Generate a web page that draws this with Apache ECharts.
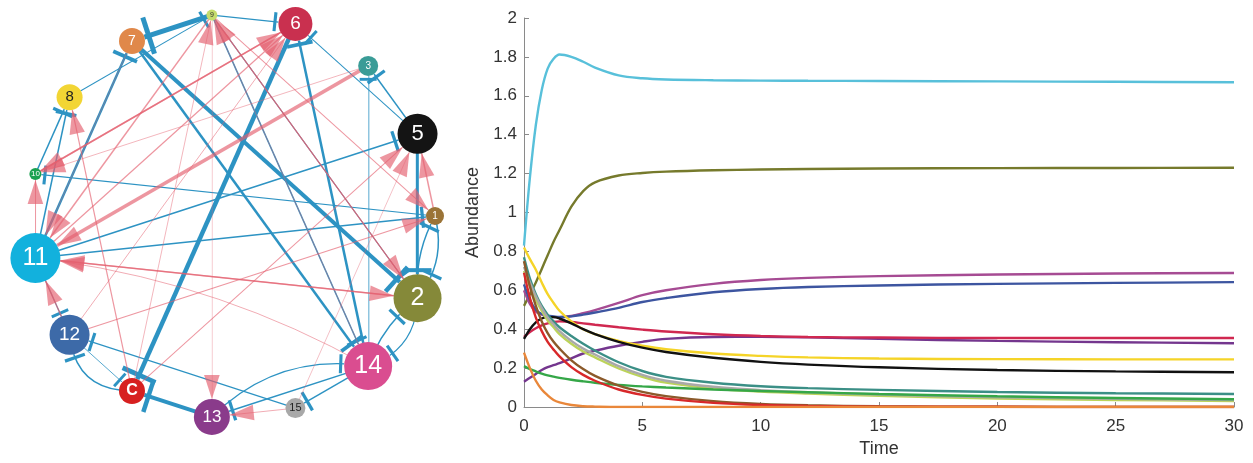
<!DOCTYPE html>
<html>
<head>
<meta charset="utf-8">
<script src="https://cdn.jsdelivr.net/npm/echarts@6/dist/echarts.min.js"></script>
<style>
  html, body { margin: 0; padding: 0; background: #fff; }
  #chart { width: 1253px; height: 463px; }
</style>
</head>
<body>
<div id="chart"></div>
<script>
// ---------- interaction network ----------
// species placed around the ring, counter-clockwise starting from the right
const ringOrder = ['1', '5', '3', '6', '9', '7', '8', '10', '11', '12', 'C', '13', '15', '14', '2'];

// inhibitory links: [from, to, strength]
const inhibitions = [
  ['9', '7', 5], ['8', '9', 1], ['9', '6', 1.2], ['6', 'C', 4.5], ['7', '2', 4],
  ['7', '14', 2.5], ['9', '14', 1.5], ['9', '2', 1], ['11', '7', 2.5], ['14', '6', 2.5],
  ['5', '6', 1], ['5', '3', 1.5], ['14', '3', 0.8], ['11', '5', 1.5], ['5', '2', 3],
  ['11', '1', 1.5], ['1', '10', 1.2], ['1', '2', 1.5], ['2', '1', 1.5], ['14', '2', 1.5],
  ['2', '14', 1.2], ['13', '14', 1.2], ['14', '13', 1.5], ['14', '15', 1.5], ['15', '12', 1.2],
  ['12', 'C', 0.8], ['C', '12', 1.5], ['13', 'C', 4], ['11', '12', 1], ['10', '8', 1.5],
  ['11', '8', 1.5]
];

// activating links: [from, to, strength]
const activations = [
  ['3', '11', 3.5], ['9', '11', 1.5], ['7', '11', 0.6], ['11', '6', 1.2], ['10', '6', 1.5],
  ['6', '10', 1.5], ['3', '10', 0.7], ['11', '2', 1.5], ['2', '11', 1.2], ['14', '11', 0.8],
  ['12', '1', 1.2], ['1', '5', 1.5], ['C', '5', 1], ['15', '5', 0.6], ['9', '1', 1],
  ['9', '2', 1.2], ['2', '9', 1], ['14', '9', 0.7], ['C', '9', 0.7], ['9', '13', 0.5],
  ['15', '13', 0.8], ['C', '8', 1.2], ['12', '11', 1.5], ['11', '10', 1], ['12', '6', 0.8]
];

// ---------- abundance time courses ----------
const time = [0, 0.25, 0.5, 0.75, 1, 1.25, 1.5, 2, 2.5, 3, 4, 5, 6, 8, 10, 12, 15, 20, 25, 30];

const abundance11 = [0.83, 1.18, 1.45, 1.63, 1.74, 1.79, 1.812, 1.80, 1.775, 1.745, 1.705, 1.69, 1.684, 1.68, 1.678, 1.677, 1.676, 1.674, 1.672, 1.67];
const abundance2  = [0.52, 0.58, 0.64, 0.71, 0.78, 0.85, 0.91, 1.03, 1.11, 1.155, 1.19, 1.203, 1.21, 1.217, 1.221, 1.224, 1.226, 1.228, 1.229, 1.23];
const abundance14 = [0.60, 0.53, 0.49, 0.475, 0.467, 0.463, 0.462, 0.468, 0.482, 0.498, 0.535, 0.575, 0.60, 0.633, 0.653, 0.664, 0.673, 0.681, 0.686, 0.689];
const abundance12 = [0.63, 0.55, 0.50, 0.478, 0.47, 0.466, 0.463, 0.466, 0.475, 0.486, 0.51, 0.54, 0.56, 0.59, 0.607, 0.617, 0.625, 0.633, 0.638, 0.642];
const abundance6  = [0.36, 0.385, 0.405, 0.42, 0.43, 0.437, 0.44, 0.437, 0.43, 0.423, 0.41, 0.398, 0.388, 0.374, 0.365, 0.36, 0.357, 0.355, 0.355, 0.355];
const abundance13 = [0.13, 0.15, 0.17, 0.19, 0.205, 0.215, 0.225, 0.25, 0.275, 0.29, 0.315, 0.335, 0.35, 0.36, 0.361, 0.358, 0.35, 0.34, 0.333, 0.328];
const abundance8  = [0.82, 0.76, 0.706, 0.64, 0.58, 0.535, 0.495, 0.44, 0.40, 0.375, 0.34, 0.315, 0.297, 0.275, 0.263, 0.255, 0.249, 0.246, 0.245, 0.245];
const abundance5  = [0.35, 0.40, 0.435, 0.455, 0.462, 0.462, 0.455, 0.43, 0.40, 0.375, 0.335, 0.305, 0.283, 0.253, 0.232, 0.218, 0.204, 0.19, 0.183, 0.179];
const abundance3  = [0.77, 0.66, 0.58, 0.52, 0.475, 0.44, 0.41, 0.365, 0.325, 0.29, 0.23, 0.185, 0.155, 0.125, 0.107, 0.097, 0.088, 0.077, 0.071, 0.067];
const abundance15 = [0.72, 0.64, 0.57, 0.51, 0.46, 0.425, 0.39, 0.34, 0.30, 0.27, 0.21, 0.165, 0.135, 0.104, 0.087, 0.076, 0.064, 0.05, 0.042, 0.036];
const abundance9  = [0.70, 0.62, 0.55, 0.495, 0.445, 0.41, 0.375, 0.325, 0.285, 0.255, 0.198, 0.155, 0.125, 0.095, 0.079, 0.069, 0.057, 0.044, 0.036, 0.031];
const abundance10 = [0.21, 0.195, 0.183, 0.172, 0.163, 0.156, 0.15, 0.14, 0.132, 0.125, 0.114, 0.106, 0.1, 0.09, 0.082, 0.076, 0.067, 0.055, 0.046, 0.04];
const abundance1  = [0.75, 0.62, 0.52, 0.44, 0.38, 0.335, 0.30, 0.24, 0.195, 0.16, 0.11, 0.078, 0.056, 0.03, 0.016, 0.009, 0.004, 0.001, 0, 0];
const abundanceC  = [0.69, 0.56, 0.46, 0.39, 0.335, 0.295, 0.26, 0.205, 0.165, 0.135, 0.09, 0.062, 0.043, 0.021, 0.01, 0.005, 0.002, 0.001, 0, 0];
const abundance7  = [0.28, 0.20, 0.135, 0.09, 0.06, 0.036, 0.024, 0.01, 0.004, 0.002, 0, 0, 0, 0, 0, 0, 0, 0, 0, 0];

const yTicks = ['0', '0.2', '0.4', '0.6', '0.8', '1', '1.2', '1.4', '1.6', '1.8', '2'];

// ---------- styling ----------
const nodeStyle = {
  '1':  { d: 18, color: '#9b7437', font: 10, text: '#fff' },
  '2':  { d: 48, color: '#858939', font: 25, text: '#fff' },
  '3':  { d: 20, color: '#3a9c97', font: 10, text: '#fff' },
  '5':  { d: 40, color: '#141414', font: 22, text: '#fff' },
  '6':  { d: 34, color: '#c9304f', font: 19, text: '#fff' },
  '7':  { d: 26, color: '#e0884a', font: 14, text: '#fff' },
  '8':  { d: 26, color: '#f2d534', font: 15, text: '#222' },
  '9':  { d: 11, color: '#c5dc6c', font: 7,  text: '#333' },
  '10': { d: 12, color: '#1aa150', font: 8,  text: '#fff' },
  '11': { d: 50, color: '#12b1dd', font: 25, text: '#fff' },
  '12': { d: 40, color: '#3d6aa8', font: 19, text: '#fff' },
  'C':  { d: 26, color: '#d72020', font: 16, text: '#fff', bold: true },
  '13': { d: 36, color: '#8a3b8b', font: 17, text: '#fff' },
  '15': { d: 20, color: '#a8a8a8', font: 11, text: '#222' },
  '14': { d: 48, color: '#da4d90', font: 25, text: '#fff' }
};

// bent links (curveness), keyed "from>to"
const bends = { '1>2': 0.25, '2>1': 0.15, '14>2': 0.15, '2>14': 0.35, '13>14': 0.25, 'C>12': 0.45, '14>11': -0.1 };

const BLUE = '#2d93c3';
const PINK = '#e4606f';

// arrow head whose tip sits at the symbol centre
const ARROW = 'path://M0 0 M40 40 M20 20 L13.5 40 L26.5 40 Z';
// flat bar across the link end
function barSymbol(len, thick) {
  const y0 = len / 2 + 2, y1 = y0 + thick;
  return 'path://M0 0 M' + len + ' ' + len + ' M0 ' + y0 + ' L' + len + ' ' + y0 + ' L' + len + ' ' + y1 + ' L0 ' + y1 + ' Z';
}

const RING = 200;
const nodes = ringOrder.map(function (name, k) {
  const a = k * 2 * Math.PI / ringOrder.length;
  const s = nodeStyle[name];
  return {
    name: name,
    x: RING * Math.cos(a),
    y: -RING * Math.sin(a),
    symbolSize: s.d,
    itemStyle: { color: s.color },
    label: {
      show: true, position: 'inside', color: s.text, fontSize: s.font,
      fontWeight: s.bold ? 'bold' : 'normal', fontFamily: 'Liberation Sans, Arial, sans-serif'
    }
  };
});

const links = [];
inhibitions.forEach(function (e) {
  const w = e[2];
  const len = Math.round(13 + 5 * w);
  const thick = 2.5 + 0.5 * w;
  links.push({
    source: e[0], target: e[1],
    symbol: ['none', barSymbol(len, thick)],
    symbolSize: [4, len],
    lineStyle: { color: BLUE, width: w, opacity: 1, curveness: bends[e[0] + '>' + e[1]] || 0 }
  });
});
activations.forEach(function (e) {
  const w = e[2];
  links.push({
    source: e[0], target: e[1],
    symbol: ['none', ARROW],
    symbolSize: [4, 48],
    lineStyle: { color: PINK, width: w, opacity: 0.66, curveness: bends[e[0] + '>' + e[1]] || 0 }
  });
});

// ---------- line series ----------
const curves = [
  ['11', abundance11, '#58c0da'],
  ['2', abundance2, '#767a2c'],
  ['14', abundance14, '#a64b93'],
  ['12', abundance12, '#3d55a0'],
  ['13', abundance13, '#74368e'],
  ['6', abundance6, '#d02850'],
  ['8', abundance8, '#f5d428'],
  ['5', abundance5, '#111111'],
  ['3', abundance3, '#3b8f86'],
  ['9', abundance9, '#bcd35a'],
  ['15', abundance15, '#a9a9a9'],
  ['10', abundance10, '#35a748'],
  ['1', abundance1, '#8b5a2b'],
  ['C', abundanceC, '#d8282a'],
  ['7', abundance7, '#e9873a']
];

const lineSeries = curves.map(function (c) {
  return {
    type: 'line',
    name: c[0],
    xAxisIndex: 0, yAxisIndex: 0,
    data: time.map(function (t, i) { return [t, c[1][i]]; }),
    showSymbol: false,
    smooth: 0.35,
    lineStyle: { color: c[2], width: 2.4 },
    itemStyle: { color: c[2] },
    z: 3
  };
});

const axisColor = '#8a8a8a';
const textFont = 'Liberation Sans, Arial, sans-serif';

const chart = echarts.init(document.getElementById('chart'), null, { renderer: 'canvas' });
chart.setOption({
  animation: false,
  backgroundColor: '#fff',
  grid: { left: 524, right: 19, top: 18, bottom: 56, containLabel: false },
  xAxis: {
    type: 'value', min: 0, max: 30, interval: 5,
    name: 'Time', nameLocation: 'middle', nameGap: 33,
    nameTextStyle: { fontSize: 18, color: '#333', fontFamily: textFont },
    axisLine: { lineStyle: { color: axisColor, width: 1 } },
    axisTick: { inside: true, length: 5, lineStyle: { color: axisColor } },
    axisLabel: { fontSize: 17, color: '#333', margin: 11, fontFamily: textFont },
    splitLine: { show: false }
  },
  yAxis: {
    type: 'value', min: 0, max: 2, interval: 0.2,
    name: 'Abundance', nameLocation: 'middle', nameGap: 31,
    nameTextStyle: { fontSize: 18, color: '#333', fontFamily: textFont },
    axisLine: { show: true, lineStyle: { color: axisColor, width: 1 } },
    axisTick: { show: true, inside: true, length: 5, lineStyle: { color: axisColor } },
    axisLabel: {
      fontSize: 17, color: '#333', margin: 7, fontFamily: textFont,
      formatter: function (v) { return yTicks[Math.round(v / 0.2)]; }
    },
    splitLine: { show: false }
  },
  series: [{
    type: 'graph',
    layout: 'none',
    left: 35.4, top: 15.1, width: 399.6, height: 401.8,
    roam: false,
    silent: true,
    data: nodes,
    links: links,
    edgeSymbol: ['none', 'arrow'],
    z: 2
  }].concat(lineSeries)
});
</script>
</body>
</html>
